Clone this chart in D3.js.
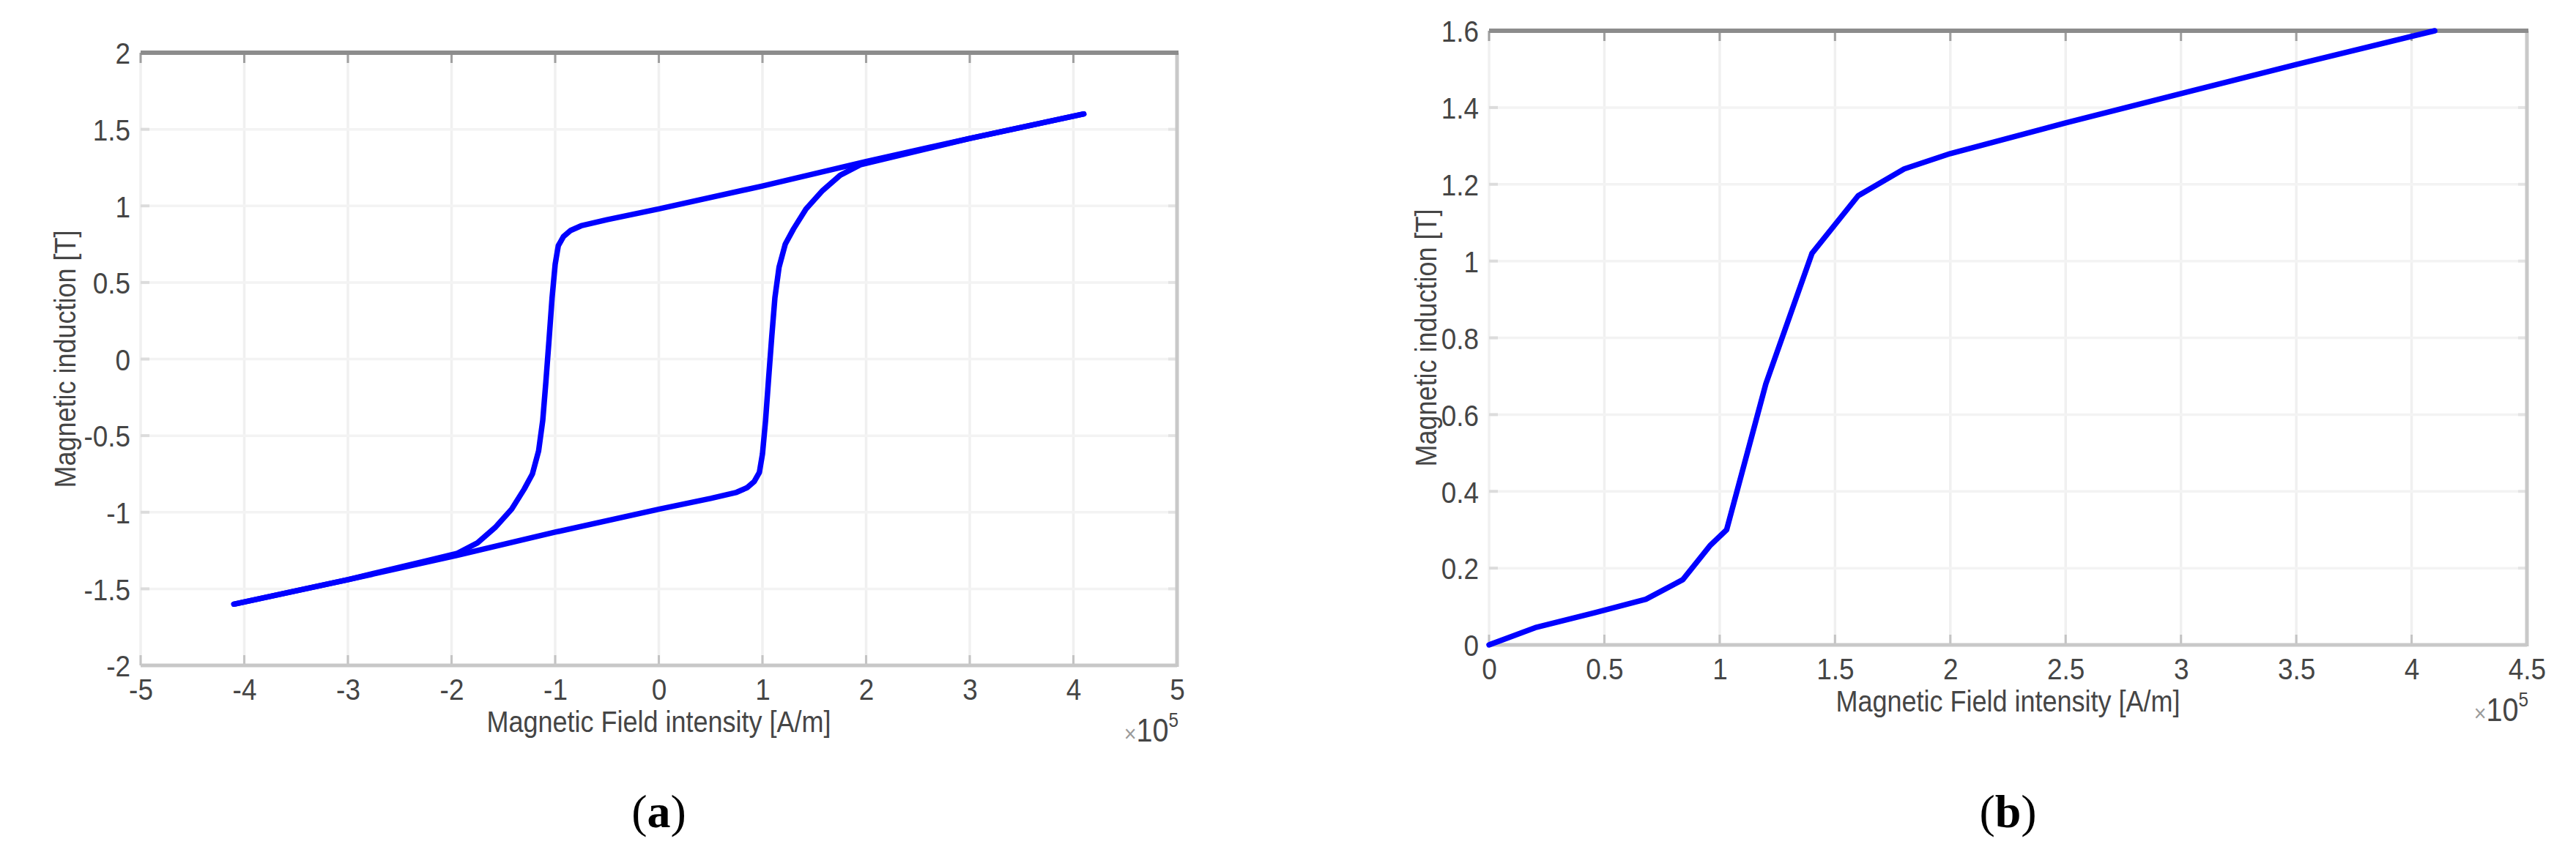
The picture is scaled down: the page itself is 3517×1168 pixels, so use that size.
<!DOCTYPE html>
<html><head><meta charset="utf-8">
<script src="https://cdn.jsdelivr.net/npm/d3@7/dist/d3.min.js"></script>
<style>body{margin:0;background:#fff}svg{display:block}</style>
</head><body>
<svg id="c" width="3517" height="1168"></svg>
<script>
// ---------- data (H in 1e5 A/m, B in T) ----------
// (a) hysteresis loop, descending branch (from +Hmax to -Hmax)
const loopDescH = [4.1, 3.0, 2.0, 1.0, 0.0, -0.5, -0.75, -0.85, -0.92, -0.97, -1.0, -1.03, -1.06, -1.09, -1.12, -1.16, -1.22, -1.3, -1.42, -1.58, -1.75, -1.95, -3.0, -4.1];
const loopDescB = [1.6, 1.44, 1.29, 1.13, 0.98, 0.91, 0.87, 0.84, 0.80, 0.74, 0.62, 0.40, 0.12, -0.15, -0.40, -0.60, -0.75, -0.85, -0.98, -1.10, -1.20, -1.27, -1.44, -1.6];
// (a) hysteresis loop, ascending branch (from -Hmax to +Hmax)
const loopAscH = [-4.1, -3.0, -2.0, -1.0, 0.0, 0.5, 0.75, 0.85, 0.92, 0.97, 1.0, 1.03, 1.06, 1.09, 1.12, 1.16, 1.22, 1.3, 1.42, 1.58, 1.75, 1.95, 3.0, 4.1];
const loopAscB = [-1.6, -1.44, -1.29, -1.13, -0.98, -0.91, -0.87, -0.84, -0.80, -0.74, -0.62, -0.40, -0.12, 0.15, 0.40, 0.60, 0.75, 0.85, 0.98, 1.10, 1.20, 1.27, 1.44, 1.6];
// (b) magnetisation curve
const curveH = [0, 0.2, 0.46, 0.68, 0.84, 0.96, 1.03, 1.2, 1.4, 1.6, 1.8, 2.0, 2.5, 3.05, 3.5, 4.1];
const curveB = [0, 0.045, 0.084, 0.119, 0.17, 0.26, 0.30, 0.68, 1.02, 1.17, 1.24, 1.28, 1.36, 1.444, 1.512, 1.6];
// ticks
const xTicksA = [-5, -4, -3, -2, -1, 0, 1, 2, 3, 4, 5];
const yTicksA = [-2, -1.5, -1, -0.5, 0, 0.5, 1, 1.5, 2];
const xTicksB = [0, 0.5, 1, 1.5, 2, 2.5, 3, 3.5, 4, 4.5];
const yTicksB = [0, 0.2, 0.4, 0.6, 0.8, 1, 1.2, 1.4, 1.6];
const xTitle = "Magnetic Field intensity [A/m]";
const yTitle = "Magnetic induction [T]";
const expText = "10";
const expSup = "5";

// ---------- drawing ----------
const svg = d3.select("#c");
svg.append("rect").attr("width", 3517).attr("height", 1168).attr("fill", "#fff");
const FONT = "'Liberation Sans', Arial, Helvetica, sans-serif";
const SX = 0.9;
const TXT = "#454545";

function panel(o) {
  const x = d3.scaleLinear().domain(o.xDom).range([o.x0, o.x1]);
  const y = d3.scaleLinear().domain(o.yDom).range([o.y0, o.y1]);
  const g = svg.append("g");

  // grid
  g.append("g").selectAll("line.vg").data(o.xTicks).join("line")
    .attr("x1", d => x(d)).attr("x2", d => x(d)).attr("y1", o.y0).attr("y2", o.y1)
    .attr("stroke", "#f0f0f0").attr("stroke-width", 3.5);
  g.append("g").selectAll("line.hg").data(o.yTicks).join("line")
    .attr("y1", d => y(d)).attr("y2", d => y(d)).attr("x1", o.x0).attr("x2", o.x1)
    .attr("stroke", "#f3f3f3").attr("stroke-width", 3.5);

  // inward tick marks
  const tk = g.append("g");
  tk.selectAll("line.bt").data(o.xTicks).join("line")
    .attr("x1", d => x(d)).attr("x2", d => x(d)).attr("y1", o.y0).attr("y2", o.y0 - 14)
    .attr("stroke", "#c4c4c4").attr("stroke-width", 3);
  tk.selectAll("line.tt").data(o.xTicks).join("line")
    .attr("x1", d => x(d)).attr("x2", d => x(d)).attr("y1", o.y1).attr("y2", o.y1 + 14)
    .attr("stroke", "#a0a0a0").attr("stroke-width", 3);
  tk.selectAll("line.lt").data(o.yTicks).join("line")
    .attr("y1", d => y(d)).attr("y2", d => y(d)).attr("x1", o.x0).attr("x2", o.x0 + 12)
    .attr("stroke", "#dcdcdc").attr("stroke-width", 4);
  tk.selectAll("line.rt").data(o.yTicks).join("line")
    .attr("y1", d => y(d)).attr("y2", d => y(d)).attr("x1", o.x1).attr("x2", o.x1 - 12)
    .attr("stroke", "#e4e4e4").attr("stroke-width", 4);

  // box
  g.append("line").attr("x1", o.x0).attr("x2", o.x1).attr("y1", o.y0).attr("y2", o.y0)
    .attr("stroke", "#c8c8c8").attr("stroke-width", 5);
  g.append("line").attr("x1", o.x1).attr("x2", o.x1).attr("y1", o.y0 + 2).attr("y2", o.y1)
    .attr("stroke", "#c8c8c8").attr("stroke-width", 5);
  g.append("line").attr("x1", o.x0).attr("x2", o.x1 + 2).attr("y1", o.y1).attr("y2", o.y1)
    .attr("stroke", "#8c8c8c").attr("stroke-width", 6);

  // tick labels through d3 axes
  const fmt = d => String(d);
  const ax = g.append("g").attr("transform", `translate(0,${o.y0})`)
    .call(d3.axisBottom(x).tickValues(o.xTicks).tickFormat(fmt).tickSize(0));
  ax.select(".domain").remove();
  ax.selectAll("text").attr("y", 47).attr("dy", null)
    .attr("transform", `scale(${SX},1)`)
    .attr("font-family", FONT).attr("font-size", 41).attr("fill", TXT);
  const ay = g.append("g").attr("transform", `translate(${o.x0},0)`)
    .call(d3.axisLeft(y).tickValues(o.yTicks).tickFormat(fmt).tickSize(0));
  ay.select(".domain").remove();
  ay.selectAll("text").attr("x", -14 / SX).attr("dy", "0.36em")
    .attr("transform", `scale(${SX},1)`)
    .attr("font-family", FONT).attr("font-size", 41).attr("fill", TXT);
  ax.attr("font-family", null); ay.attr("font-family", null);

  // axis titles
  const cx = (o.x0 + o.x1) / 2, cy = (o.y0 + o.y1) / 2;
  g.append("text").attr("transform", `translate(${cx},${o.y0 + 91}) scale(${SX},1)`)
    .attr("text-anchor", "middle").attr("font-family", FONT).attr("font-size", 40)
    .attr("fill", TXT).text(xTitle);
  g.append("text").attr("transform", `translate(${o.yTitleX},${cy}) rotate(-90) scale(${SX},1)`)
    .attr("text-anchor", "middle").attr("font-family", FONT).attr("font-size", 40)
    .attr("fill", TXT).text(yTitle);

  // exponent (x 10^5)
  const ex = g.append("text").attr("transform", `translate(${o.x1 + 2},${o.y0 + 104}) scale(${SX},1)`)
    .attr("text-anchor", "end").attr("font-family", FONT).attr("fill", TXT);
  ex.append("tspan").attr("font-size", 32).attr("fill", "#9a9a9a").text("\u00d7");
  ex.append("tspan").attr("font-size", 44).text(expText);
  ex.append("tspan").attr("font-size", 27).attr("dy", -20).text(expSup);

  // data lines
  const line = d3.line().x(d => x(d[0])).y(d => y(d[1]));
  o.series.forEach(s => {
    g.append("path").attr("d", line(s)).attr("fill", "none")
      .attr("stroke", "#0000ff").attr("stroke-width", 7.5)
      .attr("stroke-linejoin", "round").attr("stroke-linecap", "round");
  });

  // panel caption
  const cap = svg.append("text").attr("x", cx).attr("y", 1130)
    .attr("text-anchor", "middle").attr("font-family", "'Liberation Serif', 'Times New Roman', serif")
    .attr("font-size", 64).attr("fill", "#000");
  cap.append("tspan").text("(");
  cap.append("tspan").attr("font-weight", "bold").text(o.caption);
  cap.append("tspan").text(")");
}

const zip = (a, b) => a.map((v, i) => [v, b[i]]);

panel({
  xDom: [-5, 5], yDom: [-2, 2], x0: 192, x1: 1607, y0: 909, y1: 72,
  xTicks: xTicksA, yTicks: yTicksA, yTitleX: 103, caption: "a",
  series: [zip(loopDescH, loopDescB), zip(loopAscH, loopAscB)]
});
panel({
  xDom: [0, 4.5], yDom: [0, 1.6], x0: 2033, x1: 3450, y0: 881, y1: 42,
  xTicks: xTicksB, yTicks: yTicksB, yTitleX: 1961, caption: "b",
  series: [zip(curveH, curveB)]
});
</script>
</body></html>
